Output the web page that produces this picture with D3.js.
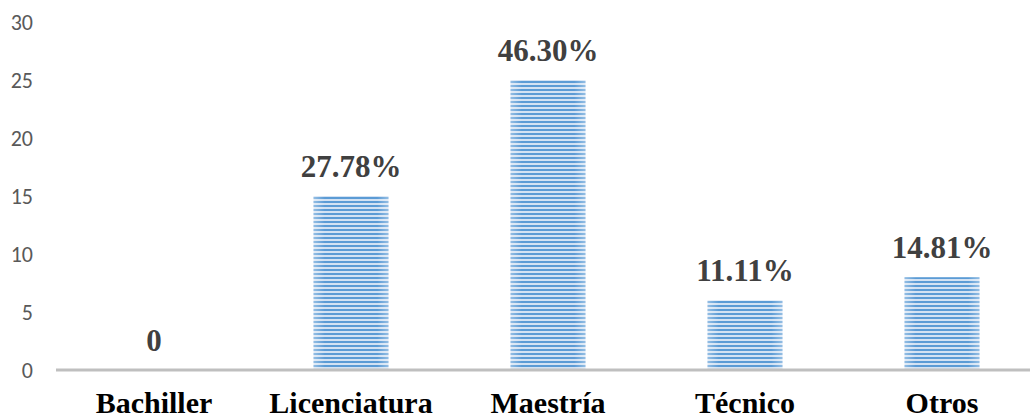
<!DOCTYPE html>
<html>
<head>
<meta charset="utf-8">
<script src="https://cdn.jsdelivr.net/npm/d3@7"></script>
<style>
  html, body { margin: 0; padding: 0; background: #fff; overflow: hidden; }
  svg { display: block; }
</style>
</head>
<body>
<svg id="chart" width="1030" height="420"></svg>
<script>
// Nivel académico: número de personas por grado y su porcentaje
const categories = ["Bachiller", "Licenciatura", "Maestría", "Técnico", "Otros"];
const counts = [0, 15, 25, 6, 8];
const labels = ["0", "27.78%", "46.30%", "11.11%", "14.81%"];
const yTicks = [0, 5, 10, 15, 20, 25, 30];

const svg = d3.select("#chart");
const width = 1030, height = 420;

const x = d3.scaleBand()
  .domain(categories)
  .range([55.5, 1040.5])
  .paddingInner(0.62)
  .paddingOuter(0.31);

const y = d3.scaleLinear()
  .domain([0, 30])
  .range([370, 22]);

// Striped fill for the bars
const defs = svg.append("defs");
const pat = defs.append("pattern")
  .attr("id", "stripes")
  .attr("patternUnits", "userSpaceOnUse")
  .attr("width", 8).attr("height", 4)
  .attr("y", 1);
pat.append("rect").attr("width", 8).attr("height", 4).attr("fill", "#d3e2f3");
pat.append("rect").attr("width", 8).attr("height", 2).attr("fill", "#5b9bd5");

const sheen = defs.append("linearGradient")
  .attr("id", "sheen")
  .attr("x1", "0").attr("x2", "1").attr("y1", "0").attr("y2", "0");
sheen.append("stop").attr("offset", "0").attr("stop-color", "#fff").attr("stop-opacity", 0.35);
sheen.append("stop").attr("offset", "0.15").attr("stop-color", "#fff").attr("stop-opacity", 0);
sheen.append("stop").attr("offset", "0.85").attr("stop-color", "#fff").attr("stop-opacity", 0);
sheen.append("stop").attr("offset", "1").attr("stop-color", "#fff").attr("stop-opacity", 0.35);

// Y axis labels (no axis line)
const yAxis = d3.axisLeft(y).tickValues(yTicks).tickSize(0).tickPadding(0);
const gy = svg.append("g").attr("transform", "translate(33,0)").call(yAxis)
  .attr("font-family", "Carlito, Calibri, 'Open Sans', sans-serif")
  .attr("font-size", 22);
gy.select(".domain").remove();
gy.selectAll("text").attr("fill", "#595959");

// Bars
const bars = svg.append("g");
categories.forEach((c, i) => {
  const h = y(0) - y(counts[i]);
  if (h <= 0) return;
  bars.append("rect")
    .attr("x", x(c)).attr("y", y(counts[i]))
    .attr("width", x.bandwidth()).attr("height", h)
    .attr("fill", "url(#stripes)");
  bars.append("rect")
    .attr("x", x(c)).attr("y", y(counts[i]))
    .attr("width", x.bandwidth()).attr("height", h)
    .attr("fill", "url(#sheen)");
});

// Baseline
svg.append("line")
  .attr("x1", 56).attr("x2", width)
  .attr("y1", y(0)).attr("y2", y(0))
  .attr("stroke", "#bfbfbf").attr("stroke-width", 3);

// Value labels
svg.append("g").selectAll("text")
  .data(categories)
  .join("text")
  .attr("x", d => x(d) + x.bandwidth() / 2)
  .attr("y", (d, i) => y(counts[i]) - 19)
  .attr("text-anchor", "middle")
  .attr("fill", "#404040")
  .attr("font-family", "'Liberation Serif', 'Times New Roman', serif")
  .attr("font-weight", "bold")
  .attr("font-size", 31)
  .text((d, i) => labels[i]);

// Category labels
const xAxis = d3.axisBottom(x).tickSize(0).tickPadding(0);
const gx = svg.append("g").attr("transform", "translate(0,392)").call(xAxis)
  .attr("font-family", "'Liberation Serif', 'Times New Roman', serif")
  .attr("font-weight", "bold")
  .attr("font-size", 30);
gx.select(".domain").remove();
gx.selectAll("text")
  .attr("dy", "0.71em")
  .attr("fill", "#000");
</script>
</body>
</html>
